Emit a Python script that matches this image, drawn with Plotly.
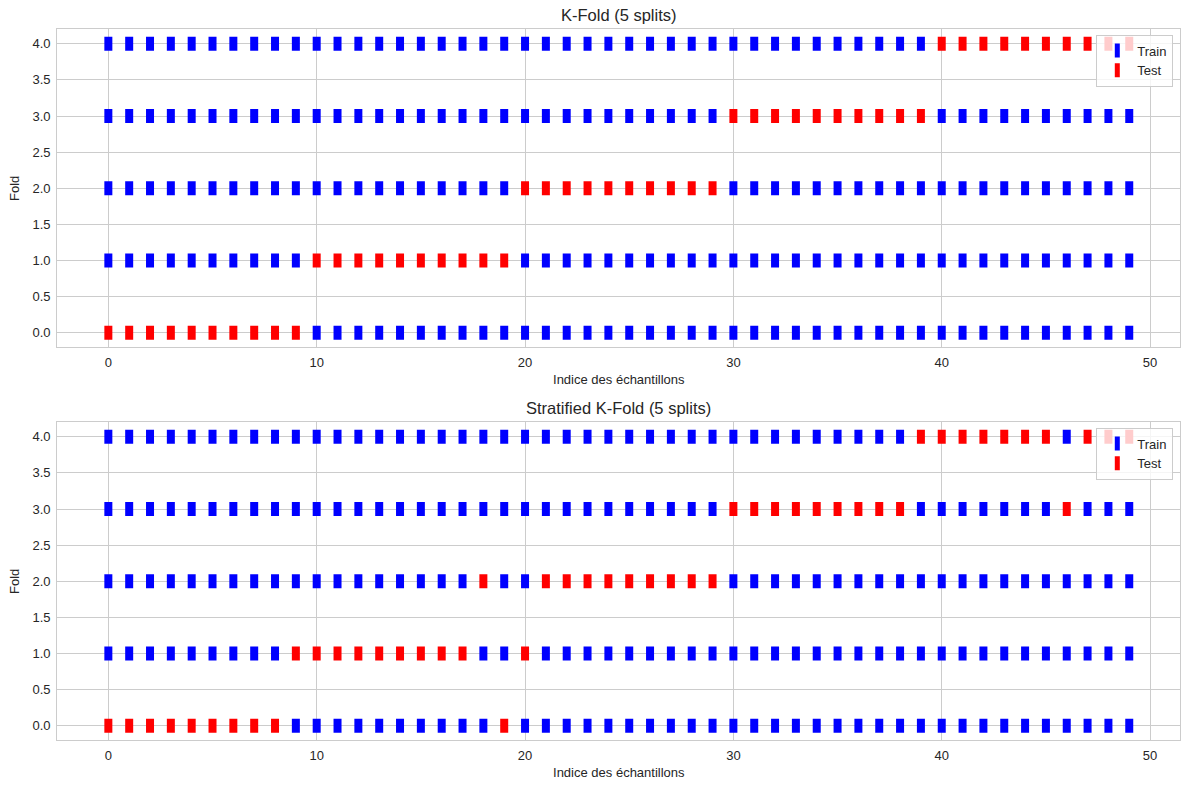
import plotly.graph_objects as go

# ---- data ----
sample_indices = list(range(50))
folds = [0, 1, 2, 3, 4]
kfold_test_idx = [
    [0, 1, 2, 3, 4, 5, 6, 7, 8, 9],
    [10, 11, 12, 13, 14, 15, 16, 17, 18, 19],
    [20, 21, 22, 23, 24, 25, 26, 27, 28, 29],
    [30, 31, 32, 33, 34, 35, 36, 37, 38, 39],
    [40, 41, 42, 43, 44, 45, 46, 47, 48, 49],
]
stratified_test_idx = [
    [0, 1, 2, 3, 4, 5, 6, 7, 8, 19],
    [9, 10, 11, 12, 13, 14, 15, 16, 17, 20],
    [18, 21, 22, 23, 24, 25, 26, 27, 28, 29],
    [30, 31, 32, 33, 34, 35, 36, 37, 38, 46],
    [39, 40, 41, 42, 43, 44, 45, 47, 48, 49],
]
titles = ["K-Fold (5 splits)", "Stratified K-Fold (5 splits)"]
x_label = "Indice des échantillons"
y_label = "Fold"
x_ticks = [0, 10, 20, 30, 40, 50]
y_ticks = [0.0, 0.5, 1.0, 1.5, 2.0, 2.5, 3.0, 3.5, 4.0]

# ---- style ----
W, H = 1189, 789
FONT = "Liberation Sans, Arial, sans-serif"
TXT = "#262626"
GRID = "#cccccc"
BLUE = "#0000ff"
RED = "#ff0000"

def py(px):
    return (H - px) / H

x_dom = [57.3 / W, 1180.3 / W]
y_doms = [[py(347.3), py(29.3)], [py(740.3), py(422.3)]]

fig = go.Figure()

def marker(color):
    return dict(symbol="line-ns", size=10, line=dict(width=8, color=color), color=color)

for i, test_sets in enumerate([kfold_test_idx, stratified_test_idx]):
    xa = "x" if i == 0 else "x2"
    ya = "y" if i == 0 else "y2"
    lg = "legend" if i == 0 else "legend2"
    trx, try_, tex, tey = [], [], [], []
    for f, test in zip(folds, test_sets):
        for s in sample_indices:
            if s in test:
                tex.append(s); tey.append(f)
            else:
                trx.append(s); try_.append(f)
    fig.add_trace(go.Scatter(x=trx, y=try_, mode="markers", name="Train",
                             marker=marker(BLUE), xaxis=xa, yaxis=ya, legend=lg))
    fig.add_trace(go.Scatter(x=tex, y=tey, mode="markers", name="Test",
                             marker=marker(RED), xaxis=xa, yaxis=ya, legend=lg))

axis_common = dict(
    showgrid=True, gridcolor=GRID, gridwidth=1,
    showline=True, linecolor=GRID, linewidth=1.25, mirror=True,
    zeroline=False, ticks="outside", ticklen=3, tickcolor="rgba(0,0,0,0)",
    tickfont=dict(family=FONT, size=13, color=TXT),
)

for i in range(2):
    sx = "" if i == 0 else "2"
    fig.update_layout(**{
        f"xaxis{sx}": dict(axis_common, domain=x_dom, range=[-2.45, 51.45],
                           tickvals=x_ticks, anchor=f"y{sx}",
                           title=dict(text=x_label, standoff=5,
                                      font=dict(family=FONT, size=13, color=TXT))),
        f"yaxis{sx}": dict(axis_common, domain=y_doms[i], range=[-0.2, 4.2],
                           tickvals=y_ticks, tickformat=".1f", anchor=f"x{sx}",
                           title=dict(text=y_label, standoff=9,
                                      font=dict(family=FONT, size=13, color=TXT))),
    })

annotations = []
for i, t in enumerate(titles):
    annotations.append(dict(text=t, x=(x_dom[0] + x_dom[1]) / 2, xref="paper",
                            y=y_doms[i][1], yref="paper", yanchor="bottom",
                            yshift=3, showarrow=False,
                            font=dict(family=FONT, size=16.5, color=TXT)))

legend_common = dict(bgcolor="rgba(255,255,255,0.8)", bordercolor=GRID, borderwidth=1,
                     font=dict(family=FONT, size=13, color=TXT),
                     xanchor="right", yanchor="top", tracegroupgap=0)

fig.update_layout(
    width=W, height=H,
    margin=dict(l=0, r=0, t=0, b=0),
    paper_bgcolor="white", plot_bgcolor="white",
    font=dict(family=FONT, color=TXT),
    annotations=annotations,
    legend=dict(legend_common, x=1173.3 / W, y=py(34.5)),
    legend2=dict(legend_common, x=1173.3 / W, y=py(427.5)),
    showlegend=True,
)

fig.write_html("out.html")
